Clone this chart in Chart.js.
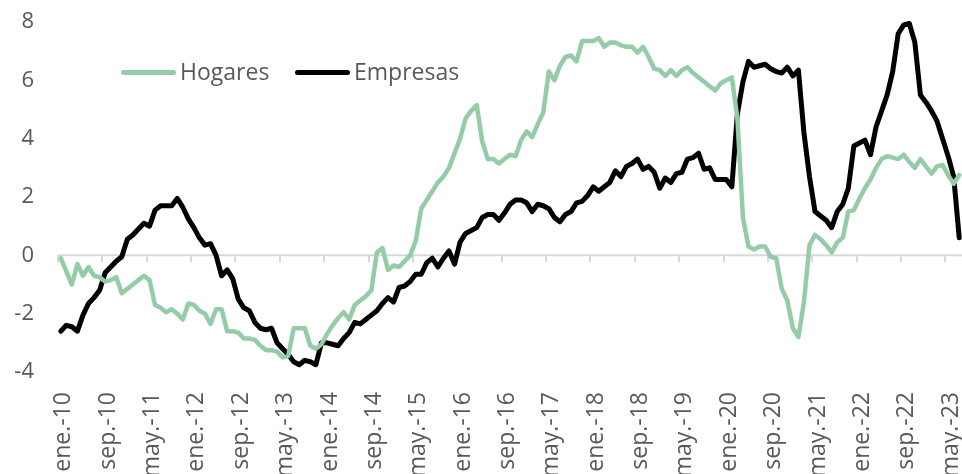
<!DOCTYPE html>
<html>
<head>
<meta charset="utf-8">
<script src="https://cdn.jsdelivr.net/npm/chart.js@4.4.1/dist/chart.umd.min.js"></script>
<style>
  html, body { margin: 0; padding: 0; background: #fff; }
  #wrap { position: relative; width: 962px; height: 474px; }
  .lg-line { position: absolute; height: 5px; width: 55px; border-radius: 3px; }
  .lg-text { position: absolute; font: 23px "Open Sans", sans-serif; color: #595959; line-height: 30px; white-space: nowrap; }
</style>
</head>
<body>
<div id="wrap">
  <canvas id="chart" width="962" height="474"></canvas>
</div>
<script>
const MONTHS = ['ene.', 'feb.', 'mar.', 'abr.', 'may.', 'jun.', 'jul.', 'ago.', 'sep.', 'oct.', 'nov.', 'dic.'];
const START_YEAR = 10;
const N_MONTHS = 163; // ene.-10 .. jul.-23
const LABEL_EVERY = 8;

const labels = [];
for (let i = 0; i < N_MONTHS; i++) {
  labels.push(MONTHS[i % 12] + '-' + (START_YEAR + Math.floor(i / 12)));
}

const hogares = [
  -0.1, -0.55, -1.0, -0.3, -0.7, -0.4, -0.7, -0.75, -0.9, -0.85, -0.75, -1.3,
  -1.15, -1.0, -0.85, -0.7, -0.85, -1.7, -1.8, -1.95, -1.85, -2.0, -2.2, -1.65,
  -1.7, -1.9, -2.0, -2.35, -1.85, -1.85, -2.6, -2.6, -2.65, -2.85, -2.85, -2.9,
  -3.1, -3.25, -3.25, -3.3, -3.5, -3.45, -2.5, -2.5, -2.5, -3.1, -3.2, -3.05,
  -2.7, -2.4, -2.15, -1.95, -2.2, -1.7, -1.55, -1.4, -1.2, 0.1, 0.25, -0.5,
  -0.35, -0.4, -0.2, 0.0, 0.5, 1.6, 1.9, 2.2, 2.5, 2.7, 3.0, 3.5,
  4.0, 4.7, 4.95, 5.15, 3.9, 3.3, 3.3, 3.15, 3.3, 3.45, 3.4, 3.95,
  4.25, 4.05, 4.5, 4.9, 6.3, 6.0, 6.5, 6.8, 6.85, 6.65, 7.35, 7.35,
  7.35, 7.45, 7.15, 7.3, 7.3, 7.2, 7.15, 7.15, 6.95, 7.15, 6.8, 6.4,
  6.35, 6.15, 6.35, 6.15, 6.35, 6.45, 6.25, 6.1, 5.95, 5.8, 5.65, 5.9,
  6.0, 6.1, 4.7, 1.3, 0.3, 0.2, 0.3, 0.3, -0.05, -0.1, -1.15, -1.55,
  -2.5, -2.8, -1.6, 0.35, 0.7, 0.55, 0.35, 0.1, 0.45, 0.6, 1.5, 1.55,
  1.95, 2.3, 2.6, 3.0, 3.3, 3.4, 3.35, 3.3, 3.45, 3.2, 3.0, 3.3,
  3.05, 2.8, 3.05, 3.1, 2.75, 2.45, 2.75
];

const empresas = [
  -2.6, -2.4, -2.45, -2.6, -2.05, -1.65, -1.45, -1.2, -0.6, -0.4, -0.2, -0.05,
  0.55, 0.7, 0.9, 1.1, 1.0, 1.55, 1.7, 1.7, 1.7, 1.95, 1.65, 1.25,
  0.95, 0.6, 0.35, 0.4, 0.0, -0.7, -0.5, -0.8, -1.5, -1.8, -1.9, -2.3,
  -2.5, -2.55, -2.5, -3.0, -3.2, -3.4, -3.65, -3.75, -3.6, -3.65, -3.75, -3.0,
  -3.0, -3.05, -3.1, -2.85, -2.65, -2.3, -2.35, -2.2, -2.05, -1.9, -1.65, -1.45,
  -1.6, -1.1, -1.05, -0.9, -0.65, -0.65, -0.25, -0.1, -0.4, -0.1, 0.15, -0.3,
  0.45, 0.75, 0.85, 0.95, 1.3, 1.4, 1.4, 1.2, 1.45, 1.75, 1.9, 1.9,
  1.8, 1.5, 1.75, 1.7, 1.6, 1.3, 1.15, 1.4, 1.5, 1.8, 1.85, 2.05,
  2.35, 2.2, 2.35, 2.5, 2.9, 2.7, 3.05, 3.15, 3.3, 2.95, 3.05, 2.85,
  2.3, 2.65, 2.5, 2.8, 2.85, 3.3, 3.35, 3.5, 2.95, 3.0, 2.6, 2.6,
  2.6, 2.35, 4.85, 5.95, 6.65, 6.45, 6.5, 6.55, 6.4, 6.3, 6.25, 6.45,
  6.15, 6.35, 4.2, 2.7, 1.5, 1.35, 1.2, 0.95, 1.5, 1.75, 2.3, 3.75,
  3.85, 3.95, 3.45, 4.4, 4.95, 5.5, 6.3, 7.6, 7.9, 7.95, 7.3, 5.5,
  5.25, 4.95, 4.6, 4.0, 3.4, 2.7, 0.6
];

const yTicks = [-4, -2, 0, 2, 4, 6, 8];
const seriesNames = ['Hogares', 'Empresas'];
const seriesColors = ['#93cca7', '#000000'];
const legendX = [121, 295];

const zeroAxis = {
  id: 'zeroAxis',
  beforeDatasetsDraw(chart) {
    const { ctx, chartArea, scales: { x, y } } = chart;
    const y0 = y.getPixelForValue(0);
    const half = (x.getPixelForValue(1) - x.getPixelForValue(0)) / 2;
    ctx.save();
    ctx.strokeStyle = '#d9d9d9';
    ctx.lineWidth = 2;
    ctx.beginPath();
    ctx.moveTo(chartArea.left, y0);
    ctx.lineTo(chartArea.right, y0);
    for (let i = 0; i < labels.length; i += LABEL_EVERY) {
      const px = Math.round(x.getPixelForValue(i) - half);
      ctx.moveTo(px, y0);
      ctx.lineTo(px, y0 + 7);
    }
    ctx.stroke();
    ctx.restore();
  }
};

// no automatic padding around the axes: the plot area is set by the layout only
const noPad = s => { s.paddingLeft = 0; s.paddingRight = 0; s.paddingTop = 0; s.paddingBottom = 0; };

const chart = new Chart(document.getElementById('chart').getContext('2d'), {
  type: 'line',
  data: {
    labels,
    datasets: [
      { label: seriesNames[0], data: hogares, borderColor: seriesColors[0], borderWidth: 4.5 },
      { label: seriesNames[1], data: empresas, borderColor: seriesColors[1], borderWidth: 5 }
    ]
  },
  options: {
    responsive: false,
    animation: false,
    layout: { padding: { top: 22, right: 0, left: 0, bottom: 0 } },
    elements: {
      point: { radius: 0 },
      line: { tension: 0, borderJoinStyle: 'round', borderCapStyle: 'round', fill: false }
    },
    datasets: { line: { clip: false } },
    plugins: { legend: { display: false }, tooltip: { enabled: false } },
    scales: {
      x: {
        offset: true,
        grid: { display: false, drawTicks: false },
        border: { display: false },
        afterFit: s => { s.height = 102; noPad(s); },
        ticks: {
          autoSkip: false,
          maxRotation: 90,
          minRotation: 90,
          padding: 20,
          labelOffset: 3,
          color: '#595959',
          font: { family: '"Open Sans", sans-serif', size: 23 },
          callback: (v, i) => (i % LABEL_EVERY === 0 ? labels[i] : '')
        }
      },
      y: {
        min: yTicks[0],
        max: yTicks[yTicks.length - 1],
        grid: { display: false, drawTicks: false },
        border: { display: false },
        afterFit: s => { s.width = 58; noPad(s); },
        afterBuildTicks: s => { s.ticks = yTicks.map(v => ({ value: v })); },
        ticks: { padding: 24, color: '#595959', font: { family: '"Open Sans", sans-serif', size: 22 } }
      }
    }
  },
  plugins: [zeroAxis]
});

// legend inside the plot, built from the datasets
const wrap = document.getElementById('wrap');
chart.data.datasets.forEach((ds, k) => {
  const line = document.createElement('div');
  line.className = 'lg-line';
  line.style.left = legendX[k] + 'px';
  line.style.top = '70px';
  line.style.background = ds.borderColor;
  wrap.appendChild(line);
  const txt = document.createElement('div');
  txt.className = 'lg-text';
  txt.style.left = (legendX[k] + 59) + 'px';
  txt.style.top = '56px';
  txt.textContent = ds.label;
  wrap.appendChild(txt);
});
</script>
</body>
</html>
